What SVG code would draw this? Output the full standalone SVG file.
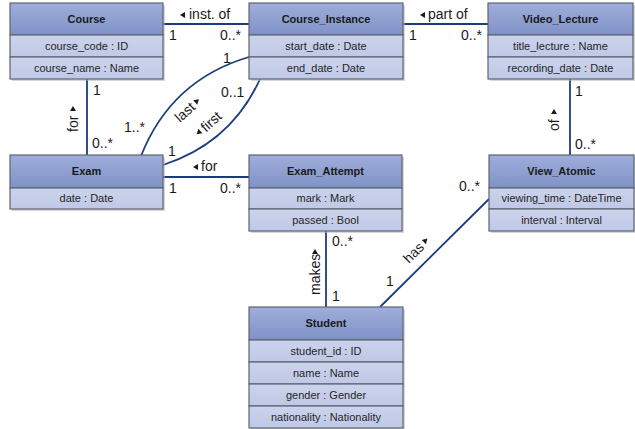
<svg xmlns="http://www.w3.org/2000/svg" width="635" height="429" viewBox="0 0 635 429">
<defs>
<linearGradient id="hd" x1="0" y1="0" x2="0" y2="1"><stop offset="0" stop-color="#9fadd9"/><stop offset="1" stop-color="#7f92c8"/></linearGradient>
<linearGradient id="rw" x1="0" y1="0" x2="0" y2="1"><stop offset="0" stop-color="#ccd3ec"/><stop offset="1" stop-color="#bfc8e6"/></linearGradient>
<style>
.sh{fill:#b5b5b5;opacity:.55}
.h{fill:url(#hd);stroke:#5e6470;stroke-width:1.2}
.r{fill:url(#rw);stroke:#5e6470;stroke-width:1.2}
.ht{font-family:"Liberation Sans",Arial,sans-serif;font-size:11px;font-weight:bold;fill:#1a1a1a;text-anchor:middle}
.at{font-family:"Liberation Sans",Arial,sans-serif;font-size:11px;fill:#262626;text-anchor:middle}
.ln{fill:none;stroke:#1c3b7c;stroke-width:1.8}
.m{font-family:"Liberation Sans",Arial,sans-serif;font-size:14px;fill:#1a1a1a}
.lb{font-family:"Liberation Sans",Arial,sans-serif;font-size:14px;fill:#1a1a1a}
.tr{fill:#1a1a1a}
</style>
</defs>
<rect width="635" height="429" fill="#fff"/>

<g id="connectors">
<line class="ln" x1="163" y1="24" x2="249" y2="24"/>
<line class="ln" x1="403" y1="24" x2="488" y2="24"/>
<line class="ln" x1="87" y1="79" x2="87" y2="155"/>
<line class="ln" x1="163" y1="177" x2="249" y2="177"/>
<line class="ln" x1="570" y1="79" x2="570" y2="155"/>
<line class="ln" x1="326" y1="231" x2="326" y2="307"/>
<line class="ln" x1="489" y1="199" x2="380" y2="307"/>
<path class="ln" d="M141,156 Q171,80 249,57"/>
<path class="ln" d="M163,165 Q231,143 260,79"/>

<polygon class="tr" points="180,15 185,12 185,18"/>
<text class="lb" x="189" y="19">inst. of</text>
<text class="m" x="169" y="40">1</text>
<text class="m" x="220" y="40">0..*</text>

<polygon class="tr" points="420,15 425,12 425,18"/>
<text class="lb" x="428" y="19">part of</text>
<text class="m" x="409" y="40">1</text>
<text class="m" x="461" y="40">0..*</text>

<text class="m" x="93" y="95">1</text>
<text class="m" x="92" y="148">0..*</text>
<g transform="translate(78,132) rotate(-90)"><text class="lb" x="0" y="0">for</text><polygon class="tr" points="21,-8 26,-5 21,-2"/></g>

<polygon class="tr" points="193,167 198,164 198,170"/>
<text class="lb" x="201" y="171">for</text>
<text class="m" x="169" y="193">1</text>
<text class="m" x="220" y="193">0..*</text>

<text class="m" x="575" y="96">1</text>
<text class="m" x="575" y="149">0..*</text>
<g transform="translate(559,131) rotate(-90)"><text class="lb" x="0" y="0">of</text><polygon class="tr" points="17,-8 22,-5 17,-2"/></g>

<text class="m" x="332" y="246">0..*</text>
<text class="m" x="332" y="301">1</text>
<g transform="translate(320,295) rotate(-90)"><text class="lb" x="0" y="0">makes</text><polygon class="tr" points="41,-8 46,-5 41,-2"/></g>

<text class="m" x="459" y="191">0..*</text>
<text class="m" x="386" y="286">1</text>
<g transform="translate(409,264) rotate(-45)"><text class="lb" x="0" y="0">has</text><polygon class="tr" points="26,-8 31,-5 26,-2"/></g>

<text class="m" x="124" y="132">1..*</text>
<text class="m" x="223" y="63">1</text>
<g transform="translate(180,123) rotate(-42)"><text class="lb" x="0" y="0">last</text><polygon class="tr" points="25,-8 30,-5 25,-2"/></g>

<text class="m" x="221" y="97">0..1</text>
<text class="m" x="168" y="156">1</text>
<g transform="translate(200,138) rotate(-42)"><polygon class="tr" points="5,-8 0,-5 5,-2"/><text class="lb" x="8" y="0">first</text></g>
</g>

<g id="Course">
<rect class="sh" x="12" y="5" width="153" height="76"/>
<rect class="h" x="10" y="3" width="153" height="32"/>
<rect class="r" x="10" y="35" width="153" height="22"/>
<rect class="r" x="10" y="57" width="153" height="22"/>
<text class="ht" x="86.5" y="23">Course</text>
<text class="at" x="86.5" y="50">course_code : ID</text>
<text class="at" x="86.5" y="72">course_name : Name</text>
</g>

<g id="Course_Instance">
<rect class="sh" x="251" y="5" width="154" height="76"/>
<rect class="h" x="249" y="3" width="154" height="32"/>
<rect class="r" x="249" y="35" width="154" height="22"/>
<rect class="r" x="249" y="57" width="154" height="22"/>
<text class="ht" x="326" y="23">Course_Instance</text>
<text class="at" x="326" y="50">start_date : Date</text>
<text class="at" x="326" y="72">end_date : Date</text>
</g>

<g id="Video_Lecture">
<rect class="sh" x="490" y="5" width="145" height="76"/>
<rect class="h" x="488" y="3" width="145" height="32"/>
<rect class="r" x="488" y="35" width="145" height="22"/>
<rect class="r" x="488" y="57" width="145" height="22"/>
<text class="ht" x="560.5" y="23">Video_Lecture</text>
<text class="at" x="560.5" y="50">title_lecture : Name</text>
<text class="at" x="560.5" y="72">recording_date : Date</text>
</g>

<g id="Exam">
<rect class="sh" x="12" y="157" width="153" height="54"/>
<rect class="h" x="10" y="155" width="153" height="33"/>
<rect class="r" x="10" y="188" width="153" height="21"/>
<text class="ht" x="86.5" y="175">Exam</text>
<text class="at" x="86.5" y="202">date : Date</text>
</g>

<g id="Exam_Attempt">
<rect class="sh" x="251" y="157" width="153" height="76"/>
<rect class="h" x="249" y="155" width="153" height="33"/>
<rect class="r" x="249" y="188" width="153" height="21"/>
<rect class="r" x="249" y="209" width="153" height="22"/>
<text class="ht" x="325.5" y="175">Exam_Attempt</text>
<text class="at" x="325.5" y="202">mark : Mark</text>
<text class="at" x="325.5" y="224">passed : Bool</text>
</g>

<g id="View_Atomic">
<rect class="sh" x="491" y="157" width="144" height="76"/>
<rect class="h" x="489" y="155" width="145" height="33"/>
<rect class="r" x="489" y="188" width="145" height="21"/>
<rect class="r" x="489" y="209" width="145" height="22"/>
<text class="ht" x="561.5" y="175">View_Atomic</text>
<text class="at" x="561.5" y="202">viewing_time : DateTime</text>
<text class="at" x="561.5" y="224">interval : Interval</text>
</g>

<g id="Student">
<rect class="sh" x="251" y="309" width="154" height="120"/>
<rect class="h" x="249" y="307" width="154" height="33"/>
<rect class="r" x="249" y="340" width="154" height="22"/>
<rect class="r" x="249" y="362" width="154" height="22"/>
<rect class="r" x="249" y="384" width="154" height="22"/>
<rect class="r" x="249" y="406" width="154" height="22"/>
<text class="ht" x="326" y="327">Student</text>
<text class="at" x="326" y="355">student_id : ID</text>
<text class="at" x="326" y="377">name : Name</text>
<text class="at" x="326" y="399">gender : Gender</text>
<text class="at" x="326" y="421">nationality : Nationality</text>
</g>
</svg>
